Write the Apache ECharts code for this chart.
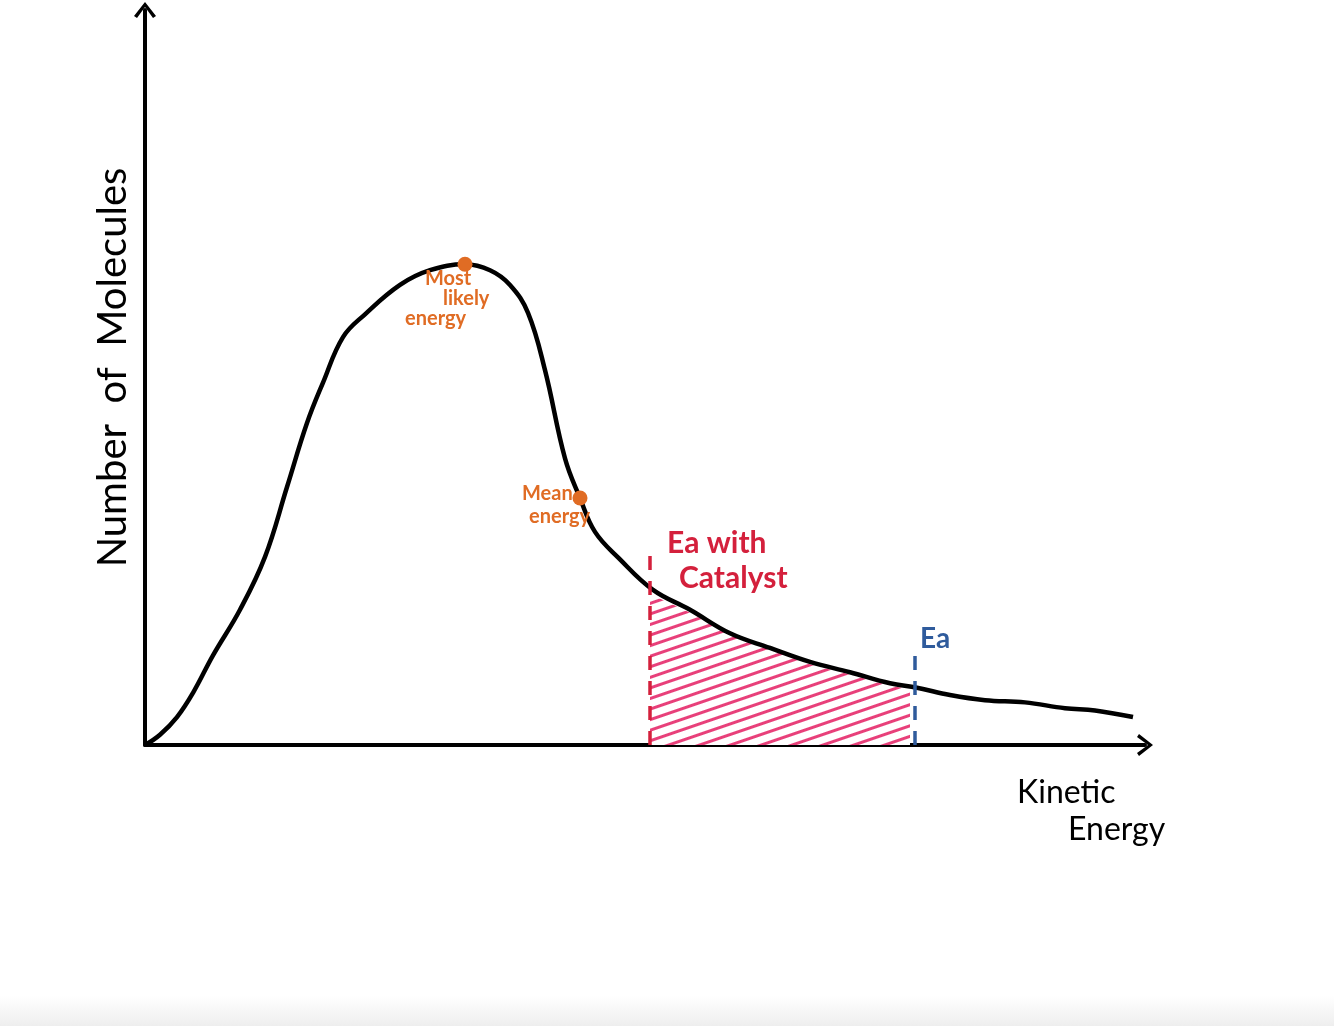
<!DOCTYPE html>
<html><head><meta charset="utf-8">
<script src="https://cdn.jsdelivr.net/npm/echarts@6/dist/echarts.min.js"></script>
<style>html,body{margin:0;padding:0;background:#fff}#c{width:1334px;height:1026px}</style>
</head><body><div id="c"></div>
<script>
// Kinetic energy (arbitrary units) and number of molecules (arbitrary units)
const energy    = [0, 1.5, 3.2, 4.8, 6.8, 9.5, 12.0, 14.2, 16.2, 17.8, 19.8, 22.0, 25.5, 28.5, 32.0, 34.5, 36.5, 38.3, 40.0, 42.0, 43.5, 45.0, 47.4, 50.8, 54.5, 58.5, 62.5, 66.5, 70.5, 74.5, 77.2, 80.5, 84.0, 88.0, 92.0, 95.0, 98.8];
const molecules = [0, 1.4, 3.8, 7.1, 12.2, 18.4, 25.6, 35.1, 43.8, 49.3, 55.5, 58.6, 62.6, 64.6, 65.4, 64.6, 62.6, 58.8, 51.0, 39.0, 33.6, 29.0, 25.4, 21.1, 18.4, 15.2, 13.2, 11.3, 9.9, 8.4, 7.8, 6.8, 6.1, 5.8, 5.0, 4.7, 3.8];
// hatched region between the two activation energies
const shadeEnergy    = [50.5, 54.5, 58.5, 62.5, 66.5, 70.5, 74.5, 76.5];
const shadeMolecules = [20.5, 18.0, 15.0, 13.0, 11.0, 9.6, 8.1, 7.6];
const eaCatalyst = 50.5, eaCatalystTop = 27.2;
const ea = 77.0, eaTop = 12.2;
const mostLikely = [32.0, 65.4];
const meanEnergy = [43.5, 33.6];
const yTitle = 'Number  of  Molecules';
const xTitle = ['Kinetic', 'Energy'];

const ORANGE = '#e06c24', RED = '#d4203c', PINK = '#e8407a', BLUE = '#2f5b9c';
const FONT = 'Lato, "Noto Sans", sans-serif';
const curve = energy.map((e, i) => [e, molecules[i]]);
const shade = shadeEnergy.map((e, i) => [e, shadeMolecules[i]]);
const chevron = 'path://M0,14 L11,0 L22,14 L19,16 L11,5 L3,16 Z';

const chart = echarts.init(document.getElementById('c'), null, {renderer: 'canvas'});
const decal = {symbol: 'rect', dashArrayX: [1, 0], dashArrayY: [3, 7], rotation: -0.33, color: PINK, backgroundColor: 'rgba(0,0,0,0)'};
chart.setOption({
  animation: false,
  backgroundColor: '#fff',
  grid: {left: 145, right: 189, top: 10, bottom: 281},
  xAxis: {type: 'value', min: 0, max: 100, splitLine: {show: false}, axisTick: {show: false}, axisLabel: {show: false},
    axisLine: {show: true, lineStyle: {color: '#000', width: 4}, symbol: ['none', chevron], symbolSize: [24, 16]}},
  yAxis: {type: 'value', min: 0, max: 100, splitLine: {show: false}, axisTick: {show: false}, axisLabel: {show: false},
    axisLine: {show: true, lineStyle: {color: '#000', width: 4}, symbol: ['none', chevron], symbolSize: [24, 16]},
    name: yTitle, nameLocation: 'middle', nameRotate: 90, nameGap: 12,
    nameTextStyle: {fontFamily: FONT, fontSize: 40, color: '#000', padding: [0, 0, 0, 20]}},
  series: [
    {type: 'line', data: shade, smooth: 0.3, symbol: 'none', z: 1, silent: true,
      lineStyle: {width: 0, decal: decal}, itemStyle: {decal: decal},
      areaStyle: {color: '#fff', opacity: 1},
      markLine: {silent: true, symbol: 'none', label: {show: false},
        lineStyle: {type: [14, 11], width: 3.5},
        data: [
          [{coord: [eaCatalyst, 0], lineStyle: {color: RED}}, {coord: [eaCatalyst, eaCatalystTop]}],
          [{coord: [ea, 0], lineStyle: {color: BLUE}}, {coord: [ea, eaTop]}]
        ]}},
    {type: 'line', data: curve, smooth: 0.4, symbol: 'none', z: 3, silent: true,
      lineStyle: {color: '#000', width: 4.5}},
    {type: 'scatter', data: [mostLikely, meanEnergy], symbolSize: 15, z: 4, silent: true,
      itemStyle: {color: ORANGE, opacity: 1}}
  ]
});

const P = (pt) => chart.convertToPixel({gridIndex: 0}, pt);
const txt = (text, base, dx, dy, size, color, weight) => ({
  type: 'text', x: base[0] + dx, y: base[1] + dy, silent: true, z: 10,
  style: {text: text, fill: color, font: (weight || 'normal') + ' ' + size + 'px ' + FONT, textVerticalAlign: 'top'}
});
const pPeak = P(mostLikely), pMean = P(meanEnergy);
const pCat = P([eaCatalyst, eaCatalystTop]), pEa = P([ea, eaTop]), pEnd = P([100, 0]);
chart.setOption({graphic: [
  txt('Most', pPeak, -40, 4, 20, ORANGE, 'bold'),
  txt('likely', pPeak, -22, 24, 20, ORANGE, 'bold'),
  txt('energy', pPeak, -60, 44, 20, ORANGE, 'bold'),
  txt('Mean', pMean, -58, -14, 20, ORANGE, 'bold'),
  txt('energy', pMean, -51, 9, 20, ORANGE, 'bold'),
  txt('Ea with', pCat, 17, -17, 30, RED, 'bold'),
  txt('Catalyst', pCat, 29, 18, 30, RED, 'bold'),
  txt('Ea', pEa, 5, -30, 28, BLUE, 'bold'),
  txt(xTitle[0], pEnd, -128, 32, 32, '#000'),
  txt(xTitle[1], pEnd, -77, 69, 32, '#000'),
  {type: 'rect', left: 0, bottom: 0, silent: true, z: 0,
    shape: {width: 1334, height: 30},
    style: {fill: new echarts.graphic.LinearGradient(0, 0, 0, 1, [{offset: 0, color: '#ffffff'}, {offset: 1, color: '#eeeeee'}])}}
]});
</script></body></html>
